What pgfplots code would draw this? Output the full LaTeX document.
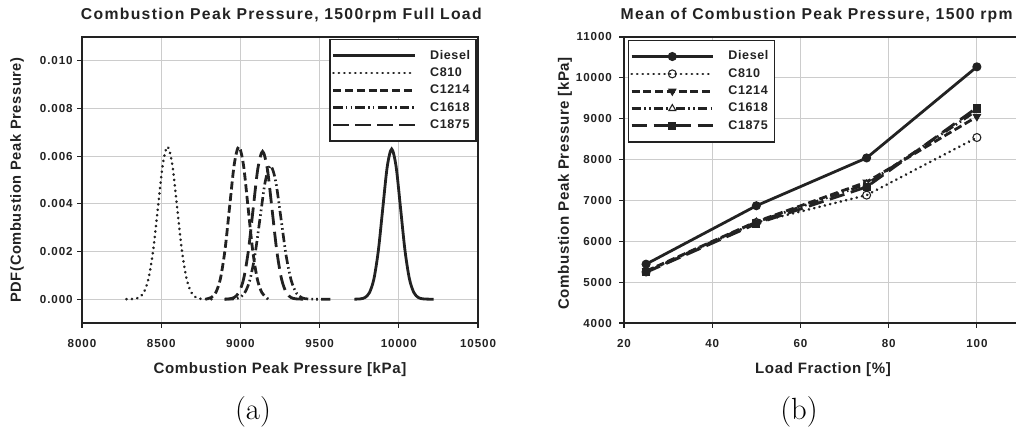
\documentclass[border=0pt]{standalone}
\usepackage{fontspec}
\usepackage{pgfplots}
\pgfplotsset{compat=1.18}
\newfontfamily\titlef{Liberation Sans}[LetterSpace=8.3]
\newfontfamily\labelf{Liberation Sans}[LetterSpace=4]
\newfontfamily\tickf{Liberation Sans}[LetterSpace=8]
\newfontfamily\legf{Liberation Sans}[LetterSpace=5]
\definecolor{ink}{HTML}{222222}
\definecolor{gridc}{HTML}{CCCCCC}
\tikzset{
  sDiesel/.style={ink, line width=2.1pt, solid},
  sC810/.style={ink, line width=2pt, line cap=round, dash pattern=on 0.2pt off 3.9pt},
  sC1214/.style={ink, line width=2.1pt, dash pattern=on 6pt off 2.8pt},
  sC1618/.style={ink, line width=2pt, dash pattern=on 7pt off 2.4pt on 1.2pt off 2.4pt on 1.2pt off 2.4pt},
  sC1875/.style={ink, line width=2.1pt, dash pattern=on 11.5pt off 5pt},
}
\pgfplotsset{
  common/.style={
    scale only axis, anchor=south west,
    width=297pt, height=214.5pt,
    axis line style={ink, line width=0.9pt},
    grid=major, major grid style={gridc, line width=0.6pt},
    tick align=outside, major tick length=3.5pt,
    tick style={ink, line width=0.8pt},
    xtick pos=lower, ytick pos=left,
    tick label style={font=\tickf\bfseries\fontsize{8.7}{10}\selectfont, ink},
    /pgf/number format/assume math mode=true,
    /pgf/number format/1000 sep={},
    scaled x ticks=false, scaled y ticks=false,
    xticklabel style={yshift=-5pt},
    legend cell align=left,
    legend style={draw=ink, line width=1pt, fill=white,
      font=\legf\bfseries\fontsize{9.4}{11}\selectfont, text=ink,
      row sep=3pt, inner xsep=1.5pt, inner ysep=7pt,
      nodes={inner xsep=3pt, inner ysep=0pt, text height=7.5pt, text depth=2.5pt},
      /tikz/every odd column/.append style={column sep=7.5pt}},
  },
}
\begin{document}
\begin{tikzpicture}
% ---------- (a) ----------
\begin{axis}[common, at={(61.5pt,80.25pt)},
  xmin=8000, xmax=10500, ymin=-0.001, ymax=0.011,
  xtick={8000,8500,9000,9500,10000,10500},
  ytick={0,0.002,0.004,0.006,0.008,0.010},
  yticklabel style={/pgf/number format/fixed, /pgf/number format/fixed zerofill, /pgf/number format/precision=3, xshift=0pt},
  legend image code/.code={\draw[#1] (0pt,0pt) -- (61pt,0pt);},
  legend style={at={(0.997,0.993)}, anchor=north east},
]
\addplot[sDiesel, smooth] coordinates {
(9720,0) (9731,0.000002) (9759,0.000014) (9787,0.000070) (9815,0.000277) (9843,0.000852)
(9871,0.002046) (9899,0.003821) (9927,0.005560) (9955,0.0063) (9983,0.005560)
(10011,0.003821) (10039,0.002046) (10067,0.000852) (10095,0.000277) (10123,0.000070)
(10151,0.000014) (10179,0.000002) (10220,0)};
\addlegendentry{Diesel}
\addplot[sC810, smooth] coordinates {
(8280,0) (8300,0.000002) (8330,0.000014) (8360,0.000071) (8390,0.000281) (8420,0.000866)
(8450,0.002078) (8480,0.003882) (8510,0.005648) (8540,0.0064) (8570,0.005648)
(8600,0.003882) (8630,0.002078) (8660,0.000866) (8690,0.000281) (8720,0.000071)
(8750,0.000014) (8780,0.000002) (8830,0)};
\addlegendentry{C810}
\addplot[sC1214, smooth] coordinates {
(8780,0) (8816,0.000071) (8845,0.000281) (8874,0.000866) (8903,0.002078) (8932,0.003882)
(8961,0.005648) (8990,0.0064) (9019,0.005648) (9048,0.003882) (9077,0.002078)
(9106,0.000866) (9135,0.000281) (9164,0.000071) (9175,0)};
\addlegendentry{C1214}
\addplot[sC1618, smooth] coordinates {
(8900,0) (8959,0.000012) (8992,0.000062) (9025,0.000246) (9058,0.000758) (9091,0.001818)
(9124,0.003396) (9157,0.004942) (9190,0.0056) (9223,0.004942) (9256,0.003396)
(9289,0.001818) (9322,0.000758) (9355,0.000246) (9388,0.000062) (9421,0.000012)
(9480,0) (9580,0)};
\addlegendentry{C1618}
\addplot[sC1875, smooth] coordinates {
(8900,0) (8930,0.000014) (8960,0.000069) (8990,0.000272) (9020,0.000839) (9050,0.002013)
(9080,0.003760) (9110,0.005472) (9140,0.0062) (9170,0.005472) (9200,0.003760)
(9230,0.002013) (9260,0.000839) (9290,0.000272) (9320,0.000069) (9350,0.000014)
(9400,0)};
\addlegendentry{C1875}
\end{axis}
% ---------- (b) ----------
\begin{axis}[common, at={(468pt,80.25pt)}, width=297.75pt,
  xmin=20, xmax=110, ymin=4000, ymax=11000,
  xtick={20,40,60,80,100},
  ytick={4000,5000,6000,7000,8000,9000,10000,11000},
  yticklabel style={xshift=-2pt},
  mark size=3pt,
  legend image code/.code={\draw[mark repeat=2,mark phase=2,#1] plot coordinates {(0pt,0pt) (30.5pt,0pt) (61pt,0pt)};},
  legend style={at={(0.009,0.99)}, anchor=north west},
]
\addplot[sDiesel, mark=*, mark options={solid, fill=ink, line width=0.8pt}] coordinates {(25,5440) (50,6870) (75,8040) (100,10270)};
\addlegendentry{Diesel}
\addplot[sC810, mark=o, mark options={solid, fill=white, line width=0.8pt}] coordinates {(25,5250) (50,6460) (75,7130) (100,8540)};
\addlegendentry{C810}
\addplot[sC1214, mark=triangle*, mark options={solid, fill=ink, line width=0.8pt, rotate=180}] coordinates {(25,5270) (50,6480) (75,7450) (100,9050)};
\addlegendentry{C1214}
\addplot[sC1618, mark=triangle*, mark options={solid, fill=white, line width=0.8pt}] coordinates {(25,5260) (50,6470) (75,7400) (100,9200)};
\addlegendentry{C1618}
\addplot[sC1875, mark=square*, mark options={solid, fill=ink, line width=0.8pt}, mark size=2.6pt] coordinates {(25,5240) (50,6430) (75,7330) (100,9270)};
\addlegendentry{C1875}
\end{axis}
% ---------- texts ----------
\begin{scope}[every node/.style={text=ink}]
\node[font=\titlef\bfseries\fontsize{11.8}{13}\selectfont] at (211pt,311.25pt) {Combustion Peak Pressure, 1500rpm Full Load};
\node[font=\titlef\bfseries\fontsize{11.8}{13}\selectfont] at (612.5pt,311.25pt) {Mean of Combustion Peak Pressure, 1500 rpm};
\node[font=\labelf\bfseries\fontsize{11.3}{13}\selectfont] at (210pt,45pt) {Combustion Peak Pressure [kPa]};
\node[font=\labelf\bfseries\fontsize{11.3}{13}\selectfont] at (617.25pt,45pt) {Load Fraction [\%]};
\node[font=\labelf\bfseries\fontsize{11}{13}\selectfont, rotate=90] at (12.75pt,187.5pt) {PDF(Combustion Peak Pressure)};
\node[font=\labelf\bfseries\fontsize{11.3}{13}\selectfont, rotate=90] at (423.75pt,185pt) {Combustion Peak Pressure [kPa]};
\end{scope}
\node[font=\fontsize{23}{26}\selectfont, text=black] at (189.75pt,13.5pt) {(a)};
\node[font=\fontsize{23}{26}\selectfont, text=black] at (599.25pt,13.5pt) {(b)};
\pgfresetboundingbox
\useasboundingbox (0,0) rectangle (762pt,322.5pt);
\end{tikzpicture}
\end{document}
